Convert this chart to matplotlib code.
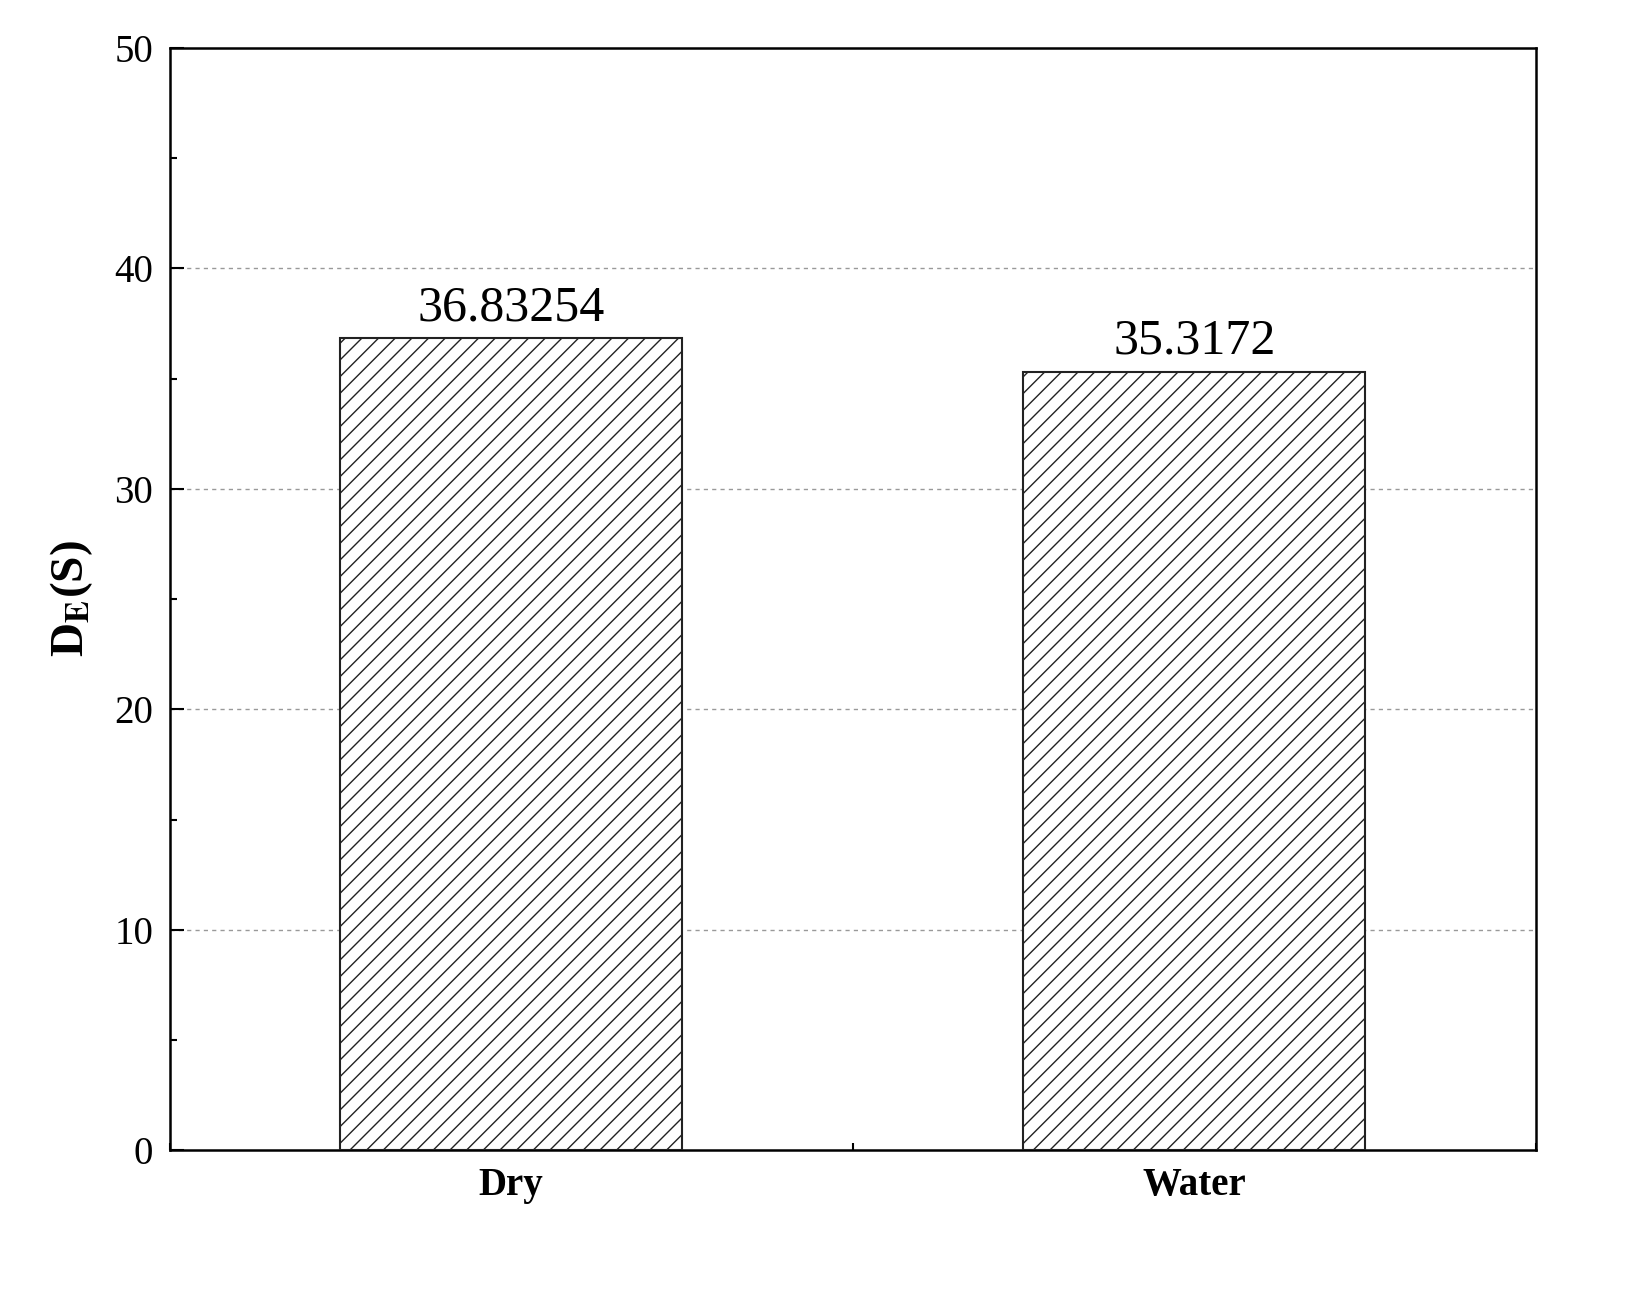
import matplotlib.pyplot as plt
from matplotlib.ticker import MultipleLocator

categories = ['Dry', 'Water']
values = [36.83254, 35.3172]
labels = ['36.83254', '35.3172']

plt.rcParams['font.family'] = ['Liberation Serif', 'DejaVu Serif']
plt.rcParams['mathtext.fontset'] = 'stix'
plt.rcParams['hatch.linewidth'] = 1.0

fig = plt.figure(figsize=(16.32, 12.91), dpi=100)
ax = fig.add_axes([0.104, 0.109, 0.837, 0.854])

x = list(range(len(categories)))
ax.bar(x, values, width=0.5, facecolor='white', edgecolor='#222222', hatch='//', linewidth=1.5, zorder=3)
for xi, v, t in zip(x, values, labels):
    ax.text(xi, v + 0.3, t, ha='center', va='bottom', fontsize=36)

ax.set_xlim(-0.5, 1.5)
ax.set_ylim(0, 50)
ax.set_xticks(x)
ax.set_xticklabels(categories, fontsize=28, fontweight='bold')
ax.xaxis.set_minor_locator(MultipleLocator(0.5))
ax.yaxis.set_major_locator(MultipleLocator(10))
ax.yaxis.set_minor_locator(MultipleLocator(5))
ax.tick_params(axis='both', which='major', direction='in', length=10, width=1.5, labelsize=28, pad=12)
ax.tick_params(axis='both', which='minor', direction='in', length=5, width=1.5)
for s in ax.spines.values():
    s.set_linewidth(1.8)
for yv in [10, 20, 30, 40]:
    ax.axhline(yv, color='#999999', linestyle=(0, (3, 3)), linewidth=1, zorder=1)

ax.set_ylabel(r'D$_\mathbf{E}$(S)', fontsize=34, fontweight='bold', labelpad=14)

fig.savefig('out.png', dpi=100)
